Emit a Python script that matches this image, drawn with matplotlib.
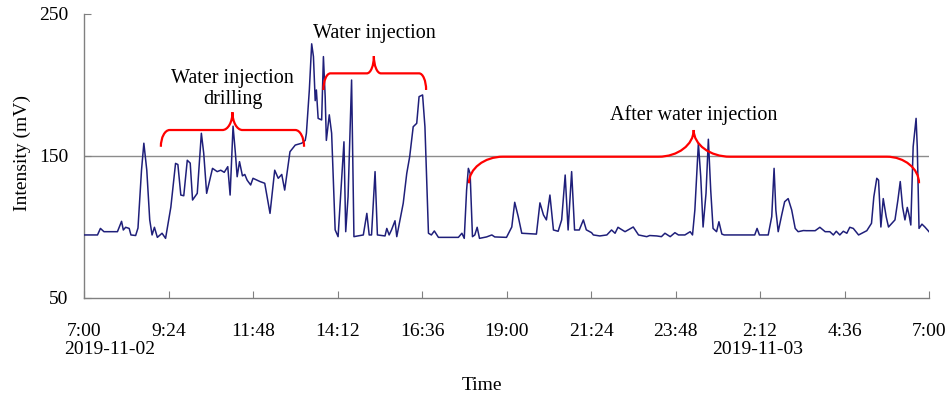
import matplotlib
matplotlib.use("Agg")
import matplotlib.pyplot as plt
from matplotlib.path import Path
from matplotlib.patches import PathPatch

plt.rcParams['font.family'] = ['Liberation Serif', 'DejaVu Serif']

# minutes since 2019-11-02 7:00
minutes = [0, 23, 28, 34, 57, 64, 67, 71, 77, 80, 88, 92, 98, 102, 107, 112, 116, 120, 125, 133,
           139, 148, 156, 160, 165, 170, 176, 181, 185, 193, 200, 204, 209, 219, 227, 233, 239, 245,
           249, 254, 258, 261, 265, 270, 274, 278, 284, 288, 300, 308, 317, 325, 331, 337, 342, 351,
           360, 371, 377, 379, 384, 388, 391, 394, 396, 399, 405, 408, 411, 413, 418, 422, 428, 433,
           439, 443, 446, 450, 456, 460, 476, 482, 486, 490, 496, 500, 513, 516, 520, 524, 530, 533,
           544, 550, 555, 561, 567, 571, 577, 581, 587, 592, 597, 604, 638, 644, 648, 652, 655, 658,
           662, 666, 670, 674, 686, 695, 700, 720, 729, 734, 740, 746, 771, 777, 783, 788, 794, 800,
           808, 814, 820, 825, 831, 836, 844, 851, 856, 865, 868, 879, 891, 899, 905, 910, 913, 922,
           936, 945, 959, 964, 976, 984, 990, 999, 1007, 1013, 1024, 1033, 1037, 1041, 1047, 1051,
           1055, 1060, 1064, 1068, 1072, 1078, 1082, 1087, 1091, 1095, 1118, 1143, 1147, 1151, 1166,
           1172, 1176, 1179, 1183, 1189, 1194, 1200, 1206, 1212, 1217, 1226, 1231, 1246, 1254, 1263,
           1271, 1277, 1282, 1288, 1294, 1300, 1305, 1311, 1320, 1334, 1342, 1346, 1351, 1354, 1358,
           1362, 1367, 1371, 1382, 1387, 1391, 1395, 1399, 1403, 1406, 1409, 1413, 1418, 1420, 1423,
           1428, 1433, 1440]
intensity = [94.4, 94.4, 99.0, 96.7, 96.7, 104.0, 97.9, 99.8, 99.0, 94.4, 94.0, 99.3, 140.0, 159.0,
             140.0, 105.0, 94.4, 99.8, 92.7, 95.6, 92.0, 114.0, 144.8, 144.0, 122.5, 122.0, 147.0,
             145.0, 119.0, 123.7, 166.0, 152.0, 123.7, 141.3, 139.0, 140.0, 138.5, 142.5, 122.5,
             171.0, 152.0, 135.4, 146.0, 136.0, 137.0, 133.0, 129.6, 134.3, 132.0, 130.8, 109.6,
             140.0, 134.3, 137.0, 126.0, 153.0, 157.7, 159.0, 161.0, 166.0, 196.5, 229.0, 220.0,
             189.0, 196.5, 176.5, 175.4, 220.0, 191.8, 161.0, 179.0, 166.0, 98.0, 93.2, 133.0,
             160.0, 96.7, 121.3, 203.5, 93.2, 94.4, 109.6, 94.4, 94.4, 139.0, 94.4, 93.7, 99.0,
             94.4, 97.9, 104.4, 93.2, 116.7, 137.7, 149.5, 170.6, 173.0, 191.8, 193.0, 170.6, 95.6,
             94.4, 97.2, 92.7, 92.7, 95.6, 92.0, 126.0, 141.3, 137.7, 93.2, 94.4, 99.8, 92.0, 93.0,
             94.4, 93.0, 92.7, 100.0, 117.4, 107.3, 95.6, 95.0, 117.0, 108.5, 105.0, 122.5, 97.9,
             97.0, 105.0, 136.6, 97.9, 139.0, 97.9, 97.9, 105.0, 98.0, 96.0, 94.4, 93.7, 94.4, 97.9,
             95.6, 99.8, 99.0, 96.7, 100.0, 94.4, 93.2, 94.0, 93.7, 93.2, 95.6, 93.2, 96.0, 94.4,
             94.4, 96.7, 94.4, 112.0, 159.0, 135.4, 100.0, 123.7, 161.8, 126.0, 99.0, 96.7, 103.7,
             95.0, 94.4, 94.4, 94.4, 94.4, 99.0, 94.4, 94.4, 107.3, 141.3, 112.0, 96.7, 108.5, 117.8,
             120.0, 112.0, 99.0, 96.7, 97.5, 97.4, 97.4, 99.8, 96.7, 96.7, 94.4, 97.0, 94.4, 97.0,
             95.6, 99.8, 99.0, 94.4, 97.4, 102.6, 121.3, 134.3, 133.0, 100.0, 120.0, 107.3, 100.0,
             105.0, 119.0, 132.0, 114.0, 105.0, 113.8, 108.5, 101.4, 156.5, 176.5, 156.5, 99.0,
             102.0, 100.0, 96.7]

tick_minutes = [0, 144, 288, 432, 576, 720, 864, 1008, 1152, 1296, 1440]
tick_labels = ['7:00', '9:24', '11:48', '14:12', '16:36', '19:00', '21:24', '23:48', '2:12', '4:36', '7:00']
y_ticks = [50, 150, 250]

# braces: (left, tip, right, end_y, flat_y, tip_y, corner_l, tip_half_l, tip_half_r, corner_r)
braces = [
    (131, 253, 375, 156.5, 168.3, 180.8, 15, 17, 17, 15),
    (408, 494, 583, 196.5, 208.2, 220.4, 12, 12, 12, 12),
    (656, 1039, 1423, 130.8, 149.5, 168.3, 58, 60, 62, 55),
]
brace_texts = [
    (253, 183, 'Water injection\ndrilling'),
    (494, 229.5, 'Water injection'),
    (1039, 172, 'After water injection'),
]

FS = 14.5
fig = plt.figure(figsize=(9.46, 3.97), dpi=100)
ax = fig.add_axes([84 / 946, 1 - 298 / 397, (929 - 84) / 946, (298 - 14) / 397])

ax.axhline(150, color='#8c8c8c', lw=1.0, zorder=1)
ax.plot(minutes, intensity, color='#1f1f7a', lw=1.1, zorder=3)

k = 0.55
for (x0, xt, x1, ye, yh, ytp, rl, cl, cr, rr) in braces:
    verts = [(x0, ye),
             (x0, ye + k * (yh - ye)), (x0 + rl * (1 - k), yh), (x0 + rl, yh),
             (xt - cl, yh),
             (xt - cl + k * cl, yh), (xt, ytp - k * (ytp - yh)), (xt, ytp),
             (xt, ytp - k * (ytp - yh)), (xt + cr - k * cr, yh), (xt + cr, yh),
             (x1 - rr, yh),
             (x1 - rr * (1 - k), yh), (x1, ye + k * (yh - ye)), (x1, ye)]
    codes = [Path.MOVETO,
             Path.CURVE4, Path.CURVE4, Path.CURVE4,
             Path.LINETO,
             Path.CURVE4, Path.CURVE4, Path.CURVE4,
             Path.CURVE4, Path.CURVE4, Path.CURVE4,
             Path.LINETO,
             Path.CURVE4, Path.CURVE4, Path.CURVE4]
    ax.add_patch(PathPatch(Path(verts, codes), fill=False, edgecolor='#ff0000', lw=1.6, zorder=4,
                           capstyle='butt'))

for (x, y, s) in brace_texts:
    ax.text(x, y, s, ha='center', va='bottom', fontsize=FS, color='black', linespacing=1.15,
            zorder=5)

ax.set_xlim(0, 1440)
ax.set_ylim(50, 250)
ax.set_xticks(tick_minutes)
ax.set_xticklabels(tick_labels)
ax.set_yticks(y_ticks)
ax.tick_params(axis='both', direction='in', length=5, color='#808080', labelsize=14)
ax.tick_params(axis='x', pad=18)
ax.tick_params(axis='y', pad=11)
for side in ['top', 'right']:
    ax.spines[side].set_visible(False)
for side in ['left', 'bottom']:
    ax.spines[side].set_color('#808080')
    ax.spines[side].set_linewidth(1.0)

ax.annotate('2019-11-02', xy=(0, 0), xycoords=('data', 'axes fraction'), xytext=(-14, -31),
            textcoords='offset points', ha='left', va='top', fontsize=14)
ax.annotate('2019-11-03', xy=(1152, 0), xycoords=('data', 'axes fraction'), xytext=(-2, -31),
            textcoords='offset points', ha='center', va='top', fontsize=14)

fig.text(482 / 946, 1 - 385 / 397, 'Time', ha='center', va='center', fontsize=14)
fig.text(22 / 946, 1 - 153 / 397, 'Intensity (mV)', ha='center', va='center', rotation=90,
         fontsize=14)

fig.savefig('out.png', dpi=100)
